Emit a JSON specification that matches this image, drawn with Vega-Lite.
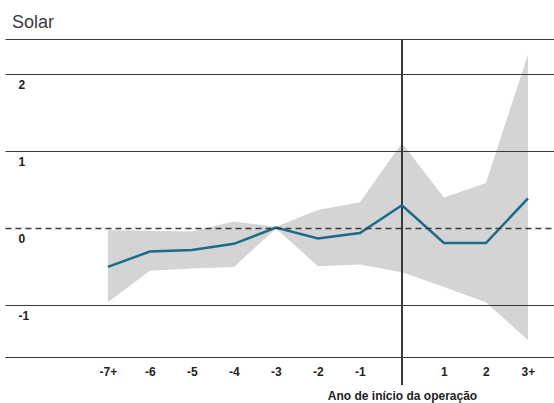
{
  "$schema": "https://vega.github.io/schema/vega-lite/v6.json",
  "width": 549,
  "height": 318,
  "autosize": {"type": "none"},
  "padding": {"left": 5, "top": 39, "right": 0, "bottom": 46},
  "background": "white",
  "config": {
    "view": {"stroke": null},
    "font": "Liberation Sans"
  },
  "title": {
    "text": "Solar",
    "anchor": "start",
    "frame": "group",
    "fontSize": 18,
    "fontWeight": "normal",
    "color": "#3a3a3a",
    "baseline": "alphabetic",
    "offset": 11,
    "dx": 7,
    "dy": 18
  },
  "data": {
    "values": [
      {"ano": -7, "est": -0.51, "lo": -0.97, "hi": -0.03},
      {"ano": -6, "est": -0.31, "lo": -0.56, "hi": -0.04},
      {"ano": -5, "est": -0.29, "lo": -0.53, "hi": -0.05},
      {"ano": -4, "est": -0.21, "lo": -0.51, "hi": 0.08},
      {"ano": -3, "est": 0.0, "lo": -0.01, "hi": 0.01},
      {"ano": -2, "est": -0.14, "lo": -0.5, "hi": 0.23},
      {"ano": -1, "est": -0.07, "lo": -0.48, "hi": 0.33},
      {"ano": 0, "est": 0.29, "lo": -0.58, "hi": 1.1},
      {"ano": 1, "est": -0.2, "lo": -0.77, "hi": 0.39},
      {"ano": 2, "est": -0.2, "lo": -0.97, "hi": 0.58},
      {"ano": 3, "est": 0.38, "lo": -1.46, "hi": 2.25}
    ]
  },
  "layer": [
    {
      "mark": {"type": "area", "color": "#d4d4d4", "opacity": 1},
      "encoding": {
        "x": {
          "field": "ano",
          "type": "quantitative",
          "scale": {"domain": [-9.45, 3.62], "nice": false, "zero": false},
          "axis": {
            "values": [-7, -6, -5, -4, -3, -2, -1, 1, 2, 3],
            "labelExpr": "datum.value == -7 ? '-7+' : (datum.value == 3 ? '3+' : '' + datum.value)",
            "domain": true,
            "domainColor": "#3a3a3a",
            "domainWidth": 1,
            "ticks": false,
            "grid": false,
            "labelFontWeight": "bold",
            "labelFontSize": 12,
            "labelColor": "#222",
            "labelPadding": 9,
            "title": "Ano de início da operação",
            "titleFontSize": 12,
            "titleFontWeight": "bold",
            "titleColor": "#222",
            "titleX": 397,
            "titleY": 38,
            "titleAlign": "center",
            "titleBaseline": "middle"
          }
        },
        "y": {
          "field": "lo",
          "type": "quantitative",
          "scale": {"domain": [-1.68, 2.45], "nice": false, "zero": false},
          "axis": {
            "values": [-1.68, -1, 0, 1, 2, 2.45],
            "labelExpr": "(datum.value == -1 || datum.value == 0 || datum.value == 1 || datum.value == 2) ? '' + datum.value : ''",
            "grid": true,
            "gridColor": "#3a3a3a",
            "gridWidth": {"condition": {"test": "datum.value == 0", "value": 1.6}, "value": 1},
            "gridOpacity": 1,
            "gridDash": {"condition": {"test": "datum.value == 0", "value": [6, 4]}, "value": []},
            "domain": false,
            "ticks": false,
            "labelAlign": "left",
            "labelBaseline": "middle",
            "labelPadding": -13,
            "labelOffset": 11,
            "labelFontWeight": "bold",
            "labelFontSize": 12,
            "labelColor": "#222",
            "title": null,
            "zindex": 1
          }
        },
        "y2": {"field": "hi"}
      }
    },
    {
      "mark": {"type": "rule", "color": "#3a3a3a", "strokeWidth": 1, "clip": false},
      "encoding": {
        "x": {"datum": 0, "type": "quantitative"},
        "y": {"datum": 2.45, "type": "quantitative"},
        "y2": {"datum": -2.04}
      }
    },
    {
      "mark": {"type": "line", "color": "#1b6a89", "strokeWidth": 2.5},
      "encoding": {
        "x": {"field": "ano", "type": "quantitative"},
        "y": {"field": "est", "type": "quantitative"}
      }
    }
  ]
}
